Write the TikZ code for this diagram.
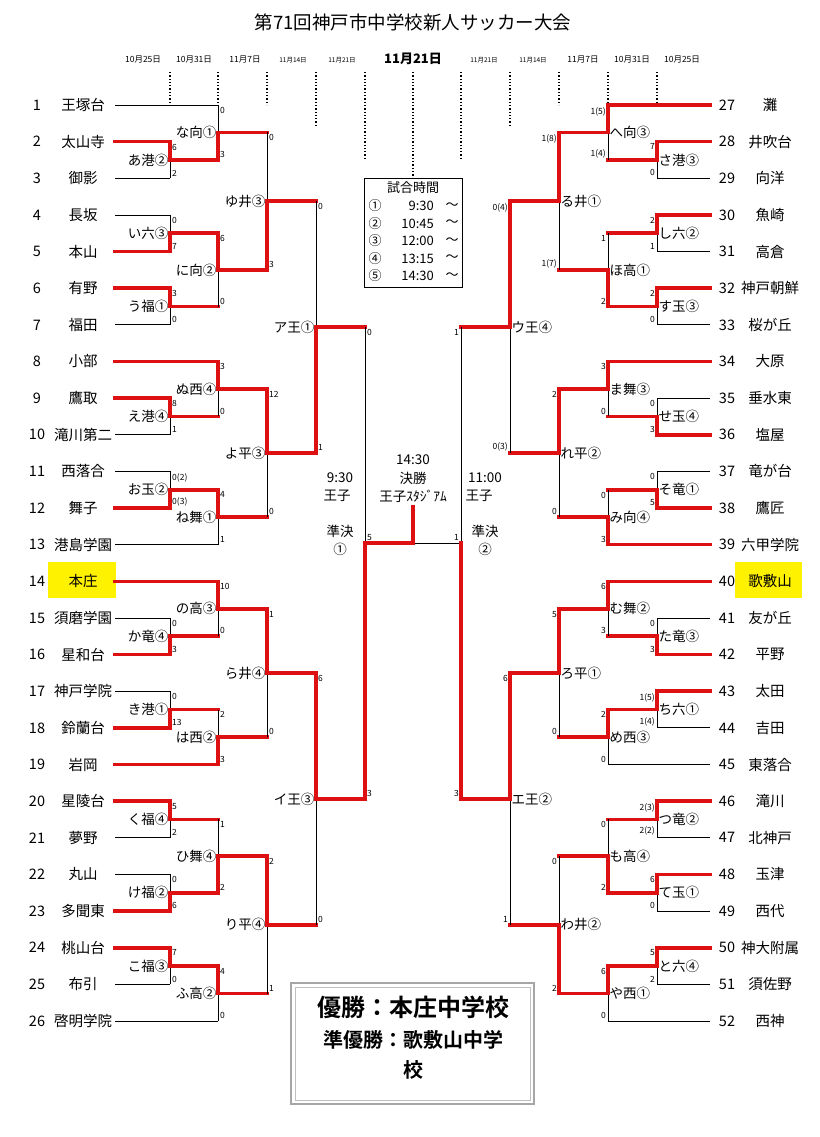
\documentclass[tikz,border=0pt]{standalone}
\usepackage{fontspec}
\setmainfont{Noto Sans CJK JP}
\newfontfamily\boldjp[BoldFont={* Bold}]{Noto Sans CJK JP}
\usetikzlibrary{calc}
\definecolor{bred}{HTML}{DD1111}
\definecolor{hl}{HTML}{FFF200}
\tikzset{
  win/.style={draw=bred,line width=3.6pt,line cap=rect},
  los/.style={draw=black,line width=0.8pt},
  sc/.style={inner sep=0.5pt,font=\fontsize{8.5}{9}\selectfont},
  ml/.style={inner sep=0.5pt,font=\fontsize{13.5}{14}\selectfont},
  tn/.style={inner sep=0pt,font=\fontsize{14.5}{15}\selectfont},
  dt/.style={font=\fontsize{8.5}{9}\selectfont,inner sep=0pt},
  dl/.style={dotted,line width=1.3pt}
}
\newcommand\mt[9]{%
  \coordinate (tmp) at ($(#3)!.5!(#4)$);
  \coordinate (#1) at (#2 |- tmp);
  \draw[win] (#3) -- (#2 |- #3);
  \draw[win] (#4) -- (#2 |- #4);
  \draw[los] (#2 |- #3) -- (#2 |- #4);
  \if a#5 \draw[win] (#2 |- #3) -- (#1);\else \draw[win] (#2 |- #4) -- (#1);\fi
  \if l#6
    \node[ml,anchor=east] (#1L) at ([xshift=-1pt]#1) {#7};
    \node[sc,anchor=north west] (#1a) at ([xshift=1.5pt,yshift=-1.5pt]#2 |- #3) {#8};
    \node[sc,anchor=south west] (#1b) at ([xshift=1.5pt,yshift=1.5pt]#2 |- #4) {#9};
  \else
    \node[ml,anchor=west] (#1L) at ([xshift=1pt]#1) {#7};
    \node[sc,anchor=north east] (#1a) at ([xshift=-1.5pt,yshift=-1.5pt]#2 |- #3) {#8};
    \node[sc,anchor=south east] (#1b) at ([xshift=-1.5pt,yshift=1.5pt]#2 |- #4) {#9};
  \fi}
\begin{document}
\begin{tikzpicture}[x=1pt,y=-1pt]
\useasboundingbox[fill=white] (0,0) rectangle (819,1137);
\coordinate (c1) at (170,0); \coordinate (c2) at (218,0); \coordinate (c3) at (267,0);
\coordinate (c4) at (316,0); \coordinate (c5) at (365,0);
\coordinate (d1) at (657,0); \coordinate (d2) at (608,0); \coordinate (d3) at (559,0);
\coordinate (d4) at (510,0); \coordinate (d5) at (461,0);
% title and dates
\node[font=\fontsize{18.5}{19}\selectfont] (title) at (413,22) {第71回神戸市中学校新人サッカー大会};
\node[dt] (dl1) at (143,60) {10月25日};
\node[dt] (dl2) at (194,60) {10月31日};
\node[dt] (dl3) at (245,60) {11月7日};
\node[dt,font=\fontsize{6.5}{7}\selectfont] (dl4) at (293,60) {11月14日};
\node[dt,font=\fontsize{6.5}{7}\selectfont] (dl5) at (342,60) {11月21日};
\node[font=\bfseries\fontsize{13}{14}\selectfont,inner sep=0pt] (dc) at (413,59) {11月21日};
\node[dt,font=\fontsize{6.5}{7}\selectfont] (dr5) at (484,60) {11月21日};
\node[dt,font=\fontsize{6.5}{7}\selectfont] (dr4) at (533,60) {11月14日};
\node[dt] (dr3) at (583,60) {11月7日};
\node[dt] (dr2) at (632,60) {10月31日};
\node[dt] (dr1) at (682,60) {10月25日};
\foreach \x/\b in {170/105,218/105,267/105,316/125,365/160,461/160,510/125,559/105,608/105,657/105}
  \draw[dl] (\x,72) -- (\x,\b);
\draw[dl] (413,72) -- (413,178);
% time box
\draw[line width=0.8pt] (364,178) rectangle (462,287);
\node[font=\fontsize{13}{14}\selectfont,inner sep=0pt] (tb) at (413,188) {試合時間};
\foreach \k/\c/\t in {0/①/9:30,1/②/10:45,2/③/12:00,3/④/13:15,4/⑤/14:30}{
  \node[font=\fontsize{13}{14}\selectfont,inner sep=0pt] at (375,{206+\k*17.5}) {\c};
  \node[font=\fontsize{13}{14}\selectfont,inner sep=0pt,anchor=east] at (434,{206+\k*17.5}) {\t};
  \node[font=\fontsize{13}{14}\selectfont,inner sep=0pt] at (452,{206+\k*17.5}) {～};
}
% teams left
\foreach \i/\x/\s/\n in {1/218/los/王塚台,2/170/win/太山寺,3/170/los/御影,4/170/los/長坂,5/170/win/本山,6/170/win/有野,7/170/los/福田,8/218/win/小部,9/170/win/鷹取,10/170/los/滝川第二,11/170/los/西落合,12/170/win/舞子,13/218/los/港島学園,14/218/win/本庄,15/170/los/須磨学園,16/170/win/星和台,17/170/los/神戸学院,18/170/win/鈴蘭台,19/218/win/岩岡,20/170/win/星陵台,21/170/los/夢野,22/170/los/丸山,23/170/win/多聞東,24/170/win/桃山台,25/170/los/布引,26/218/los/啓明学院}{
  \pgfmathsetmacro\yy{105+(\i-1)*36.64}
  \coordinate (t\i) at (\x,\yy);
  \ifnum\i=14 \fill[hl] (48,562) rectangle (116,598);\fi
  \draw[\s] (115,\yy) -- (t\i);
  \node[tn] (n\i) at (37,\yy) {\i};
  \node[tn] (m\i) at (83,\yy) {\n};
}
% teams right
\foreach \i/\x/\s/\n in {27/608/win/灘,28/657/win/井吹台,29/657/los/向洋,30/657/win/魚崎,31/657/los/高倉,32/657/win/神戸朝鮮,33/657/los/桜が丘,34/608/win/大原,35/657/los/垂水東,36/657/win/塩屋,37/657/los/竜が台,38/657/win/鷹匠,39/608/win/六甲学院,40/608/win/歌敷山,41/657/los/友が丘,42/657/win/平野,43/657/win/太田,44/657/los/吉田,45/608/los/東落合,46/657/win/滝川,47/657/los/北神戸,48/657/win/玉津,49/657/los/西代,50/657/win/神大附属,51/657/los/須佐野,52/608/los/西神}{
  \pgfmathsetmacro\yy{105+(\i-27)*36.64}
  \coordinate (t\i) at (\x,\yy);
  \ifnum\i=40 \fill[hl] (735,562) rectangle (802,598);\fi
  \draw[\s] (710,\yy) -- (t\i);
  \node[tn] (n\i) at (727,\yy) {\i};
  \node[tn] (m\i) at (770,\yy) {\n};
}
% left matches
\mt{aM}{c1}{t2}{t3}{a}{l}{あ港②}{6}{2}
\mt{naM}{c2}{t1}{aM}{b}{l}{な向①}{0}{3}
\mt{iM}{c1}{t4}{t5}{b}{l}{い六③}{0}{7}
\mt{uM}{c1}{t6}{t7}{a}{l}{う福①}{3}{0}
\mt{niM}{c2}{iM}{uM}{a}{l}{に向②}{6}{0}
\mt{yuM}{c3}{naM}{niM}{b}{l}{ゆ井③}{0}{3}
\mt{eM}{c1}{t9}{t10}{a}{l}{え港④}{8}{1}
\mt{nuM}{c2}{t8}{eM}{a}{l}{ぬ西④}{3}{0}
\mt{oM}{c1}{t11}{t12}{b}{l}{お玉②}{0(2)}{0(3)}
\mt{neM}{c2}{oM}{t13}{a}{l}{ね舞①}{4}{1}
\mt{yoM}{c3}{nuM}{neM}{a}{l}{よ平③}{12}{0}
\mt{AM}{c4}{yuM}{yoM}{b}{l}{ア王①}{0}{1}
\mt{kaM}{c1}{t15}{t16}{b}{l}{か竜④}{0}{3}
\mt{noM}{c2}{t14}{kaM}{a}{l}{の高③}{10}{0}
\mt{kiM}{c1}{t17}{t18}{b}{l}{き港①}{0}{13}
\mt{haM}{c2}{kiM}{t19}{b}{l}{は西②}{2}{3}
\mt{raM}{c3}{noM}{haM}{a}{l}{ら井④}{1}{0}
\mt{kuM}{c1}{t20}{t21}{a}{l}{く福④}{5}{2}
\mt{keM}{c1}{t22}{t23}{b}{l}{け福②}{0}{6}
\mt{hiM}{c2}{kuM}{keM}{b}{l}{ひ舞④}{1}{2}
\mt{koM}{c1}{t24}{t25}{a}{l}{こ福③}{7}{0}
\mt{fuM}{c2}{koM}{t26}{a}{l}{ふ高②}{4}{0}
\mt{riM}{c3}{hiM}{fuM}{a}{l}{り平④}{2}{1}
\mt{IM}{c4}{raM}{riM}{a}{l}{イ王③}{6}{0}
% right matches
\mt{saM}{d1}{t28}{t29}{a}{r}{さ港③}{7}{0}
\mt{heM}{d2}{t27}{saM}{a}{r}{へ向③}{1(5)}{1(4)}
\mt{shiM}{d1}{t30}{t31}{a}{r}{し六②}{2}{1}
\mt{suM}{d1}{t32}{t33}{a}{r}{す玉③}{2}{0}
\mt{hoM}{d2}{shiM}{suM}{b}{r}{ほ高①}{1}{2}
\mt{ruM}{d3}{heM}{hoM}{a}{r}{る井①}{1(8)}{1(7)}
\mt{seM}{d1}{t35}{t36}{b}{r}{せ玉④}{0}{3}
\mt{maM}{d2}{t34}{seM}{a}{r}{ま舞③}{3}{0}
\mt{soM}{d1}{t37}{t38}{b}{r}{そ竜①}{0}{5}
\mt{miM}{d2}{soM}{t39}{b}{r}{み向④}{0}{3}
\mt{reM}{d3}{maM}{miM}{a}{r}{れ平②}{2}{0}
\mt{UM}{d4}{ruM}{reM}{a}{r}{ウ王④}{0(4)}{0(3)}
\mt{taM}{d1}{t41}{t42}{b}{r}{た竜③}{0}{3}
\mt{muM}{d2}{t40}{taM}{a}{r}{む舞②}{6}{3}
\mt{chiM}{d1}{t43}{t44}{a}{r}{ち六①}{1(5)}{1(4)}
\mt{meM}{d2}{chiM}{t45}{a}{r}{め西③}{2}{0}
\mt{roM}{d3}{muM}{meM}{a}{r}{ろ平①}{5}{0}
\mt{tsuM}{d1}{t46}{t47}{a}{r}{つ竜②}{2(3)}{2(2)}
\mt{teM}{d1}{t48}{t49}{a}{r}{て玉①}{6}{0}
\mt{moM}{d2}{tsuM}{teM}{b}{r}{も高④}{0}{2}
\mt{toM}{d1}{t50}{t51}{a}{r}{と六④}{5}{2}
\mt{yaM}{d2}{toM}{t52}{a}{r}{や西①}{6}{0}
\mt{waM}{d3}{moM}{yaM}{b}{r}{わ井②}{0}{2}
\mt{EM}{d4}{roM}{waM}{a}{r}{エ王②}{6}{1}
% semifinals and final
\coordinate (fl) at (365,543); \coordinate (fc) at (413,543); \coordinate (fr) at (461,543);
\coordinate (ft) at (413,507);
\draw[win] (AM) -- (c5 |- AM);
\draw[win] (IM) -- (c5 |- IM);
\draw[win] (UM) -- (d5 |- UM);
\draw[win] (EM) -- (d5 |- EM);
\draw[los] (c5 |- AM) -- (c5 |- IM);
\draw[los] (d5 |- UM) -- (d5 |- EM);
\draw[los] (fc) -- (fr);
\draw[win] (c5 |- IM) -- (fl) -- (fc) -- (ft);
\draw[win] (d5 |- EM) -- (fr);
\node[sc,anchor=north west] (s1a) at ([xshift=1.5pt,yshift=-1.5pt]c5 |- AM) {0};
\node[sc,anchor=south west] (s1b) at ([xshift=1.5pt,yshift=1.5pt]c5 |- IM) {3};
\node[sc,anchor=north east] (s2a) at ([xshift=-1.5pt,yshift=-1.5pt]d5 |- UM) {1};
\node[sc,anchor=south east] (s2b) at ([xshift=-1.5pt,yshift=1.5pt]d5 |- EM) {3};
\node[sc,anchor=south west] (f1) at ([xshift=1.5pt,yshift=1.5pt]fl) {5};
\node[sc,anchor=south east] (f2) at ([xshift=-1.5pt,yshift=1.5pt]fr) {1};
\tikzset{ct/.style={font=\fontsize{13.5}{14}\selectfont,inner sep=0pt}}
\node[ct] (k1) at (413,460) {14:30};
\node[ct] (k2) at (413,478) {決勝};
\node[ct] (k3) at (413,496) {王子ｽﾀｼﾞｱﾑ};
\node[ct] (l1) at (340,478) {9:30};
\node[ct] (l2) at (337,496) {王子};
\node[ct] (l3) at (340,531) {準決};
\node[ct] (l4) at (340,549) {①};
\node[ct] (r1) at (485,478) {11:00};
\node[ct] (r2) at (479,496) {王子};
\node[ct] (r3) at (485,531) {準決};
\node[ct] (r4) at (485,549) {②};
% result box
\draw[draw=gray!70,line width=2.5pt] (291,983) rectangle (534,1104);
\draw[draw=gray!50,line width=0.6pt] (295,987) rectangle (530,1100);
\node[font=\boldjp\bfseries\fontsize{24}{25}\selectfont,inner sep=0pt] (w1) at (413,1007) {優勝：本庄中学校};
\node[font=\boldjp\bfseries\fontsize{20}{21}\selectfont,inner sep=0pt] (w2) at (413,1040) {準優勝：歌敷山中学};
\node[font=\boldjp\bfseries\fontsize{20}{21}\selectfont,inner sep=0pt] (w3) at (413,1070) {校};
\end{tikzpicture}
\end{document}
